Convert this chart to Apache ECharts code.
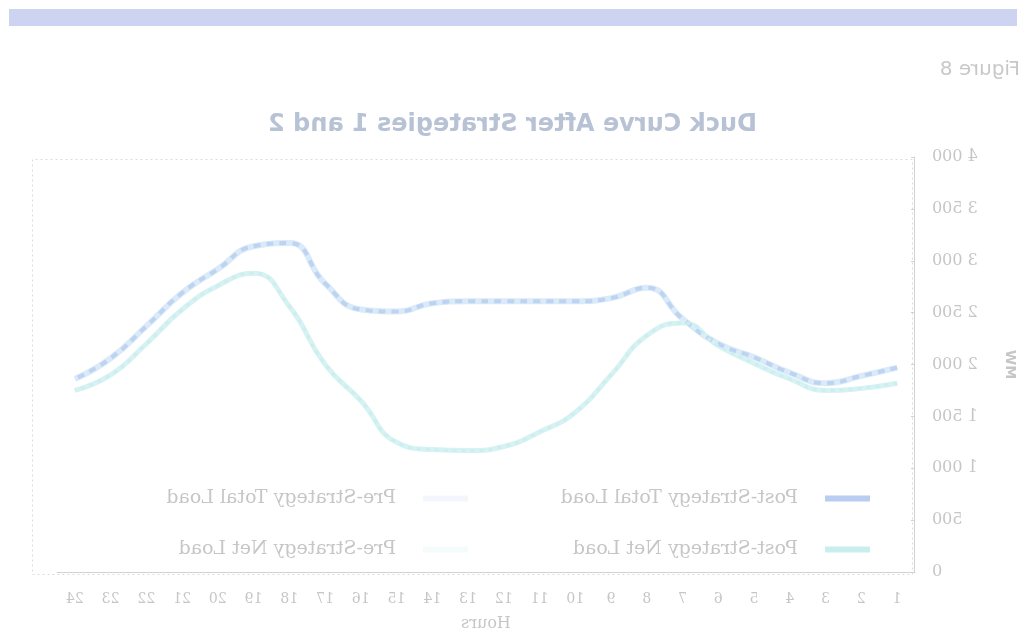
<!DOCTYPE html>
<html>
<head>
<meta charset="utf-8">
<script src="https://cdn.jsdelivr.net/npm/echarts@6/dist/echarts.min.js"></script>
<style>
  html, body { margin: 0; padding: 0; background: #ffffff; }
  #page { width: 1025px; height: 634px; transform: scaleX(-1); transform-origin: 50% 50%; }
  #chart { width: 1025px; height: 634px; }
</style>
</head>
<body>
<div id="page"><div id="chart"></div></div>
<script>
// Hourly load profile (MW)
const hours = ['1','2','3','4','5','6','7','8','9','10','11','12','13','14','15','16','17','18','19','20','21','22','23','24'];
const postTotalLoad = [1970, 1890, 1820, 1920, 2070, 2200, 2440, 2740, 2640, 2610, 2610, 2610, 2610, 2590, 2510, 2530, 2780, 3170, 3140, 2920, 2690, 2370, 2060, 1860];
const preTotalLoad  = [1970, 1890, 1820, 1920, 2070, 2200, 2440, 2740, 2640, 2610, 2610, 2610, 2610, 2590, 2510, 2530, 2780, 3170, 3140, 2920, 2690, 2370, 2060, 1860];
const postNetLoad   = [1820, 1770, 1750, 1860, 2010, 2180, 2400, 2280, 1900, 1540, 1350, 1210, 1170, 1180, 1250, 1650, 2000, 2560, 2880, 2760, 2530, 2200, 1900, 1750];
const preNetLoad    = [1820, 1770, 1750, 1860, 2010, 2180, 2400, 2280, 1900, 1540, 1350, 1210, 1170, 1180, 1250, 1650, 2000, 2560, 2880, 2760, 2530, 2200, 1900, 1750];
const seriesNames = ['Post-Strategy Total Load', 'Pre-Strategy Total Load', 'Post-Strategy Net Load', 'Pre-Strategy Net Load'];

const textGrey = '#c6c6c6';
const serif = '"DejaVu Serif", "Liberation Serif", serif';
const sans = '"DejaVu Sans", "Liberation Sans", sans-serif';

function groupThousands(v) {
  return String(v).replace(/\B(?=(\d{3})+(?!\d))/g, ' ');
}

function legendItem(name, left, top, swatch) {
  return {
    data: [name],
    left: left, top: top,
    itemWidth: 45, itemHeight: 6,
    icon: 'rect',
    itemStyle: { color: swatch },
    selectedMode: false,
    textStyle: { color: textGrey, fontFamily: serif, fontSize: 19, padding: [0, 0, 0, 22] }
  };
}

const chart = echarts.init(document.getElementById('chart'));
chart.setOption({
  animation: false,
  backgroundColor: '#ffffff',
  title: {
    text: 'Duck Curve After Strategies 1 and 2',
    left: 'center', top: 108,
    textStyle: { color: '#b8c2d5', fontFamily: sans, fontWeight: 'bold', fontSize: 24 }
  },
  graphic: [
    { type: 'rect', left: 8, top: 9, shape: { width: 1008, height: 17 }, style: { fill: '#ccd4f2' }, silent: true },
    { type: 'text', left: 5, top: 60, style: { text: 'Figure 8', fill: '#c8c8c8', font: '20px ' + sans }, silent: true },
    { type: 'rect', left: 110, top: 157, shape: { width: 880, height: 415 },
      style: { fill: 'none', stroke: '#dcdcdc', lineWidth: 1, lineDash: [2, 3] }, silent: true }
  ],
  legend: [
    legendItem(seriesNames[0], 150, 484, '#b9ccf1'),
    legendItem(seriesNames[1], 552, 484, '#f3f7fc'),
    legendItem(seriesNames[2], 150, 535, '#c9eeee'),
    legendItem(seriesNames[3], 552, 535, '#f3fbfb')
  ],
  grid: { left: 110, right: 57, top: 157, bottom: 62, containLabel: false, outerBoundsMode: 'none' },
  xAxis: {
    type: 'category', data: hours, boundaryGap: true,
    name: 'Hours', nameLocation: 'middle', nameGap: 44,
    nameTextStyle: { color: textGrey, fontFamily: serif, fontSize: 16 },
    axisLine: { lineStyle: { color: '#d2d2d2' } },
    axisTick: { show: false },
    axisLabel: { color: textGrey, fontFamily: serif, fontSize: 14, margin: 20, interval: 0 }
  },
  yAxis: {
    type: 'value', min: 0, max: 4000, interval: 500,
    name: 'MW', nameLocation: 'middle', nameRotate: 90, nameGap: 88,
    nameTextStyle: { color: textGrey, fontFamily: sans, fontSize: 14, fontWeight: 'bold' },
    axisLine: { show: true, lineStyle: { color: '#d2d2d2' } },
    axisTick: { show: true, length: 4, inside: true, lineStyle: { color: '#d2d2d2' } },
    splitLine: { show: false },
    axisLabel: { color: textGrey, fontFamily: serif, fontSize: 16, margin: 17, formatter: groupThousands }
  },
  series: [
    { name: seriesNames[0], type: 'line', data: postTotalLoad, smooth: true, showSymbol: false,
      color: '#b9ccf1', lineStyle: { color: '#dbeaf8', width: 6 }, z: 2 },
    { name: seriesNames[1], type: 'line', data: preTotalLoad, smooth: true, showSymbol: false,
      color: '#bcd4f1', lineStyle: { color: '#bcd4f1', width: 4, type: [7, 6] }, z: 3 },
    { name: seriesNames[2], type: 'line', data: postNetLoad, smooth: true, showSymbol: false,
      color: '#c9eeee', lineStyle: { color: '#d6f2f2', width: 5 }, z: 2 },
    { name: seriesNames[3], type: 'line', data: preNetLoad, smooth: true, showSymbol: false,
      color: '#cdeef0', lineStyle: { color: '#cdeef0', width: 3, type: [4, 5] }, z: 3 }
  ]
});
</script>
</body>
</html>
